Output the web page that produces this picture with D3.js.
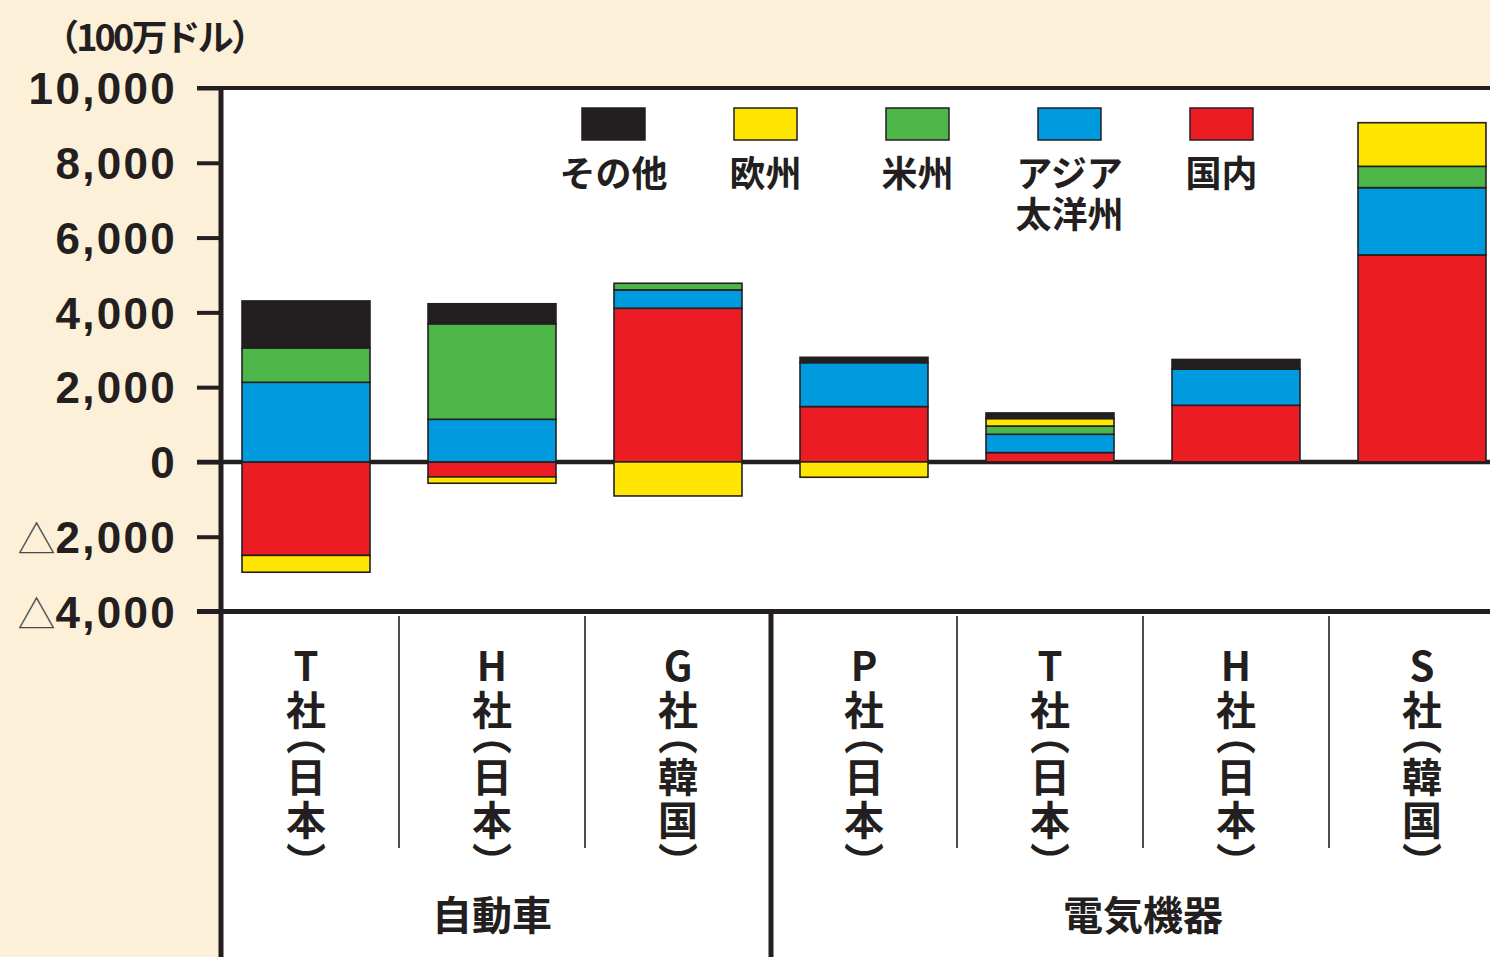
<!DOCTYPE html>
<html><head><meta charset="utf-8">
<script src="https://cdn.jsdelivr.net/npm/d3@7"></script>
<style>html,body{margin:0;padding:0;background:#fdf0d9;} svg{display:block}
.vchar{writing-mode:vertical-rl;text-orientation:upright;font-feature-settings:"vpal" 1;}
</style>
</head><body><svg id="c" width="1490" height="957"></svg>
<script>
// ---------- data ----------
const categories = ["T社（日本）","H社（日本）","G社（韓国）","P社（日本）","T社（日本）","H社（日本）","S社（韓国）"];
const groups = ["自動車","電気機器"];
const groupSizes = [3, 4];
const seriesNames = ["国内","アジア太洋州","米州","欧州","その他"];
const domestic    = [-2500, -400, 4110, 1480, 250, 1515, 5535];
const asiaPacific = [ 2130, 1140,  490, 1175, 490,  965, 1800];
const americas    = [  920, 2555,  178,    0, 220,    0,  570];
const europe      = [ -450, -170, -910, -410, 200,    0, 1167];
const other       = [ 1255,  535,    0,  143, 150,  260,    0];
const yTicks = [-4000, -2000, 0, 2000, 4000, 6000, 8000, 10000];
const legendOrder = ["その他","欧州","米州","アジア太洋州","国内"];
const legendLines = [["その他"],["欧州"],["米州"],["アジア","太洋州"],["国内"]];
const unitLabel = "（100万ドル）";

const colors = {"国内":"#ec1c24","アジア太洋州":"#009ade","米州":"#4cb748","欧州":"#ffe600","その他":"#231f20"};
const seriesValues = {"国内":domestic,"アジア太洋州":asiaPacific,"米州":americas,"欧州":europe,"その他":other};

const rows = categories.map((c, i) => {
  const r = {idx: i};
  seriesNames.forEach(s => r[s] = seriesValues[s][i]);
  return r;
});

// ---------- layout ----------
const W = 1490, H = 957;
const axisX = 221, tickLen = 24;
const svg = d3.select("#c");
const ink = "#231f20";
const latinFont = "'Liberation Sans', Arial, sans-serif";
const cjkFont = "'Noto Sans CJK JP', 'Noto Sans', sans-serif";
const mixFont = "'Liberation Sans', 'Noto Sans CJK JP', sans-serif";

const x = d3.scaleBand().domain(d3.range(categories.length))
  .range([213, 1515]).paddingInner(0.312).paddingOuter(0.156);
const y = d3.scaleLinear().domain([-4000, 10000]).range([611.5, 88]);

// backgrounds
svg.append("rect").attr("width", W).attr("height", H).attr("fill", "#fdf0d9");
svg.append("rect").attr("x", axisX).attr("y", y(10000)).attr("width", W - axisX).attr("height", H - y(10000)).attr("fill", "#ffffff");

// horizontal frame lines (top, zero, bottom)
[[10000, 4], [0, 4.5], [-4000, 5]].forEach(([v, w]) => {
  svg.append("line").attr("x1", axisX - tickLen).attr("x2", W)
    .attr("y1", y(v)).attr("y2", y(v)).attr("stroke", ink).attr("stroke-width", w);
});

// axis with ticks
const yAxis = d3.axisLeft(y).tickValues(yTicks).tickSize(tickLen).tickPadding(20).tickFormat(() => "");
const gAxis = svg.append("g").attr("transform", `translate(${axisX},0)`).call(yAxis);
gAxis.select(".domain").remove();
gAxis.selectAll(".tick line").attr("stroke", ink).attr("stroke-width", 4);
gAxis.selectAll(".tick text").each(function(d) {
  const t = d3.select(this);
  t.attr("fill", ink).attr("font-family", latinFont).attr("font-weight", 700)
    .attr("font-size", 44).attr("letter-spacing", 2.3).attr("dy", "0.36em").attr("x", -44);
  if (d < 0) {
    t.append("tspan").attr("font-family", cjkFont).attr("font-weight", 300)
      .attr("font-size", 38).attr("letter-spacing", 0).attr("fill", "#4a4a4a").text("△");
  }
  t.append("tspan").text(d3.format(",")(Math.abs(d)));
});

// vertical axis line
svg.append("line").attr("x1", axisX).attr("x2", axisX).attr("y1", y(10000) - 2).attr("y2", H)
  .attr("stroke", ink).attr("stroke-width", 5);

// stacked bars
const stack = d3.stack().keys(seriesNames).offset(d3.stackOffsetDiverging);
const stacked = stack(rows);
const gBars = svg.append("g");
stacked.forEach(layer => {
  gBars.selectAll(null).data(layer.filter(d => d[1] !== d[0])).enter().append("rect")
    .attr("x", d => x(d.data.idx))
    .attr("width", x.bandwidth())
    .attr("y", d => y(Math.max(d[0], d[1])))
    .attr("height", d => Math.abs(y(d[0]) - y(d[1])))
    .attr("fill", colors[layer.key])
    .attr("stroke", ink).attr("stroke-width", 1.6);
});

// category separators
const pad = (x.step() - x.bandwidth()) / 2;
const groupEnds = d3.cumsum(groupSizes);
for (let i = 1; i < categories.length; i++) {
  const sx = x(i) - pad;
  if (groupEnds.includes(i)) {
    svg.append("line").attr("x1", sx).attr("x2", sx).attr("y1", y(-4000)).attr("y2", H)
      .attr("stroke", ink).attr("stroke-width", 5);
  } else {
    svg.append("line").attr("x1", sx).attr("x2", sx).attr("y1", 616).attr("y2", 848)
      .attr("stroke", "#3a3a3a").attr("stroke-width", 1.8);
  }
}

// vertical category labels: one vertical-writing text per character
const fs = 40, gap = 3.5;
categories.forEach((label, i) => {
  const cx = x(i) + x.bandwidth() / 2;
  let top = 646;
  Array.from(label).forEach(ch => {
    const adv = (ch === "（" || ch === "）") ? fs / 2 : fs;
    svg.append("text").attr("class", "vchar")
      .attr("x", cx).attr("y", top)
      .attr("fill", ink).attr("font-family", cjkFont).attr("font-weight", 700).attr("font-size", fs)
      .text(ch);
    top += adv + gap;
  });
});

// group labels
let start = 0;
groups.forEach((g, gi) => {
  const end = start + groupSizes[gi];
  const x0 = x(start) - pad, x1 = x(end - 1) + x.bandwidth() + pad;
  svg.append("text").attr("x", (x0 + x1) / 2).attr("y", 913)
    .attr("text-anchor", "middle").attr("dominant-baseline", "central")
    .attr("font-family", cjkFont).attr("font-weight", 700).attr("font-size", 40)
    .attr("fill", ink).text(g);
  start = end;
});

// legend
legendOrder.forEach((name, i) => {
  const lx = 582 + 152 * i;
  svg.append("rect").attr("x", lx).attr("y", 108).attr("width", 63).attr("height", 32)
    .attr("fill", colors[name]).attr("stroke", ink).attr("stroke-width", 1.5);
  legendLines[i].forEach((line, li) => {
    svg.append("text").attr("x", lx + 31.5).attr("y", 174 + 13 + li * 41).attr("text-anchor", "middle")
      .attr("font-family", mixFont).attr("font-weight", 700).attr("font-size", 36).attr("fill", ink)
      .text(line);
  });
});

// unit label
svg.append("text").attr("x", 155).attr("y", 35)
  .attr("text-anchor", "middle").attr("dominant-baseline", "central")
  .attr("font-family", cjkFont).attr("font-weight", 700).attr("font-size", 36)
  .attr("textLength", 224).attr("lengthAdjust", "spacing")
  .attr("fill", ink).text(unitLabel);
</script></body></html>
